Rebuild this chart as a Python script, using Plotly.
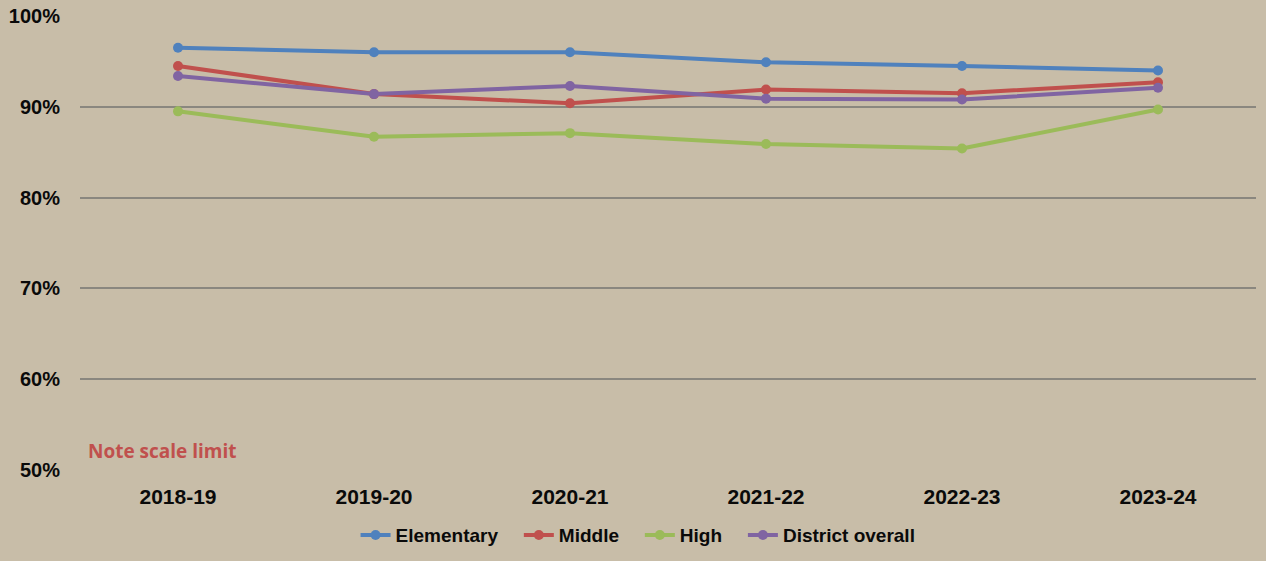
import plotly.graph_objects as go

years = ["2018-19", "2019-20", "2020-21", "2021-22", "2022-23", "2023-24"]
elementary = [96.5, 96.0, 96.0, 94.9, 94.5, 94.0]
middle = [94.5, 91.4, 90.4, 91.9, 91.5, 92.7]
high = [89.5, 86.7, 87.1, 85.9, 85.4, 89.7]
district = [93.4, 91.4, 92.3, 90.9, 90.8, 92.1]

series = [
    ("Elementary", elementary, "#4F81BD"),
    ("Middle", middle, "#C0504D"),
    ("High", high, "#9BBB59"),
    ("District overall", district, "#8064A2"),
]

bg = "#C8BDA8"
ink = "#0A0A0A"
pad = "\u00a0\u00a0\u00a0"

fig = go.Figure()
for i, (name, vals, color) in enumerate(series):
    label = name + (pad if i < len(series) - 1 else "")
    fig.add_trace(go.Scatter(
        x=years, y=[v / 100 for v in vals], name=label, mode="lines+markers",
        line=dict(color=color, width=4),
        marker=dict(color=color, size=10),
    ))

fig.add_annotation(
    text="<b>Note scale limit</b>", xref="paper", yref="paper",
    x=0.005, y=0.008, xanchor="left", yanchor="bottom", showarrow=False,
    font=dict(family="Open Sans", size=19, color="#C0504D"),
)

fig.update_layout(
    width=1266, height=561,
    paper_bgcolor=bg, plot_bgcolor=bg,
    margin=dict(l=80, r=10, t=16, b=91, autoexpand=False),
    showlegend=True,
    legend=dict(
        orientation="h", xref="container", x=0.504, xanchor="center",
        yref="container", y=0.046, yanchor="middle",
        font=dict(family="Liberation Sans", size=19, color=ink, weight="bold"),
        bgcolor="rgba(0,0,0,0)", itemwidth=30,
    ),
    font=dict(family="Liberation Sans", color=ink),
)
fig.update_xaxes(
    showgrid=False, zeroline=False, showline=False, automargin=False,
    range=[-0.5, 5.5], ticks="", ticklabelstandoff=12,
    tickfont=dict(size=21, family="Liberation Sans", color=ink, weight="bold"),
)
fig.update_yaxes(
    range=[0.5, 1.0], tickvals=[0.5, 0.6, 0.7, 0.8, 0.9, 1.0], tickformat=".0%",
    showgrid=True, gridcolor="#8A877F", gridwidth=1.5, zeroline=False, showline=False,
    automargin=False, ticks="", ticklabelstandoff=19,
    tickfont=dict(size=20, family="Liberation Sans", color=ink, weight="bold"),
)

fig.write_html("out.html")
